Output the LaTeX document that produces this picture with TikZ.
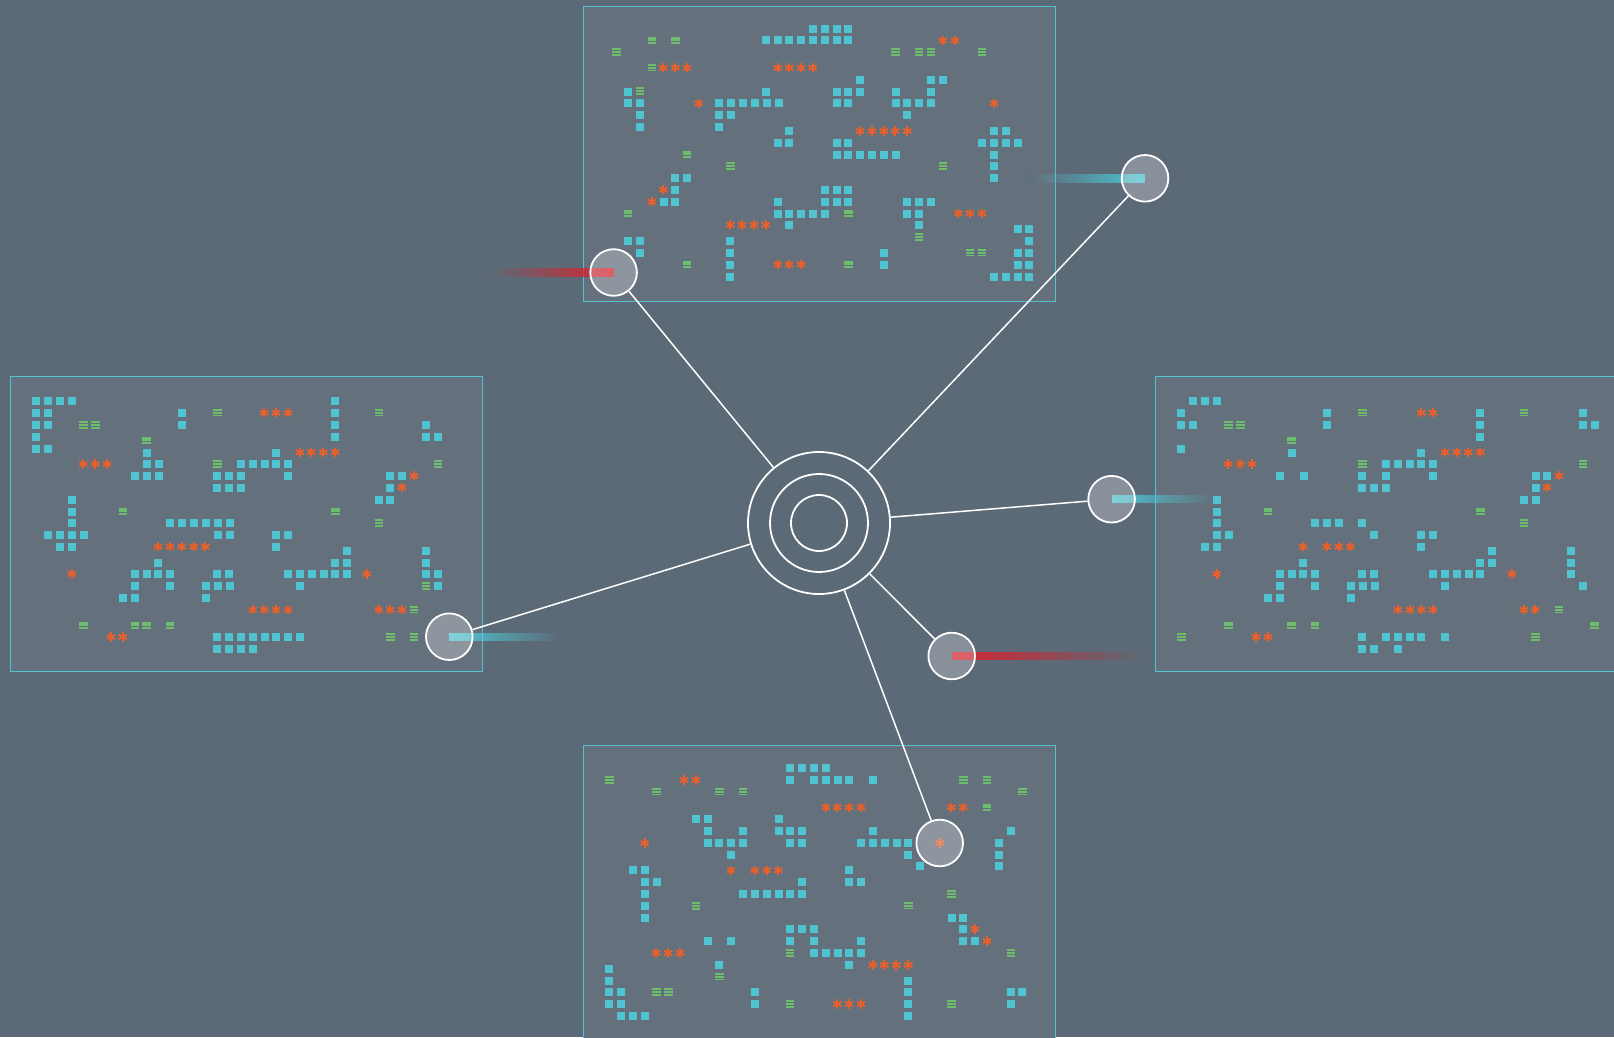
\documentclass[tikz,border=0pt]{standalone}
\usetikzlibrary{fadings}
\definecolor{bgc}{RGB}{92,105,118}
\definecolor{panelc}{RGB}{100,112,124}
\definecolor{cyanc}{RGB}{79,195,208}
\definecolor{greenc}{RGB}{108,190,106}
\definecolor{orangec}{RGB}{232,96,44}
\definecolor{redc}{RGB}{214,36,48}
\tikzfading[name=fadetoleft, left color=transparent!100, right color=transparent!0]
\tikzfading[name=fadetoright, left color=transparent!0, right color=transparent!100]
\newcommand\cyanrow[2]{\foreach \xx in {#2} \fill[cyanc] (\xx-4,#1-4) rectangle ++(8,8);}
\newcommand\greenpts[1]{\foreach \xx/\yy in {#1} \pic at (\xx,\yy) {grnmark};}
\newcommand\astpts[1]{\foreach \xx/\yy in {#1} \pic at (\xx,\yy) {astmark};}
\begin{document}
\begin{tikzpicture}[x=1pt,y=-1pt,
  panelbox/.style={fill=panelc, draw=cyanc, line width=1pt},
  link/.style={draw=white, line width=1.5pt},
  ring/.style={circle, draw=white, line width=1.8pt, inner sep=0pt},
  sat/.style={circle, draw=white, line width=1.8pt, fill=white, fill opacity=0.27, inner sep=0pt, minimum size=46.6pt},
  grnmark/.pic={\foreach \d in {-2.7,0,2.7} \fill[greenc] (-4.2,\d-0.9) rectangle (4.2,\d+0.9);},
  astmark/.pic={\foreach \a in {90,30,150} \draw[orangec, line width=2pt] (\a:4.6) -- (\a+180:4.6);}
]
\useasboundingbox (0,0) rectangle (1614,1037);
\fill[bgc] (0,0) rectangle (1614,1037);
\clip (0,0) rectangle (1614,1037);

% panels
\path[panelbox] (583.3,6.3) rectangle (1055.5,301.3);
\path[panelbox] (10.5,376) rectangle (482.5,671);
\path[panelbox] (1155.3,376) rectangle (1627.3,671);
\path[panelbox] (583.3,745.7) rectangle (1055.5,1045);

% top panel
\cyanrow{29}{813,825,837,848}
\cyanrow{40}{766,778,789,801,813,825,837,848}
\cyanrow{80}{860,931,943}
\cyanrow{92}{628,766,837,848,860,896,931}
\cyanrow{103}{628,640,719,731,743,755,767,779,837,848,896,907,919,931}
\cyanrow{115}{640,719,731,907}
\cyanrow{127}{640,719}
\cyanrow{131}{789,994,1006}
\cyanrow{143}{778,789,837,848,982,994,1006,1018}
\cyanrow{155}{837,848,860,872,884,896,994}
\cyanrow{166}{994}
\cyanrow{178}{675,687,994}
\cyanrow{190}{675,825,837,848}
\cyanrow{202}{664,675,778,825,837,848,907,919,931}
\cyanrow{214}{778,789,801,813,825,907,919}
\cyanrow{225}{789,919}
\cyanrow{229}{1018,1029}
\cyanrow{241}{628,640,730,1029}
\cyanrow{253}{640,730,884,1018,1029}
\cyanrow{265}{730,884,1018,1029}
\cyanrow{277}{730,994,1006,1018,1029}
\greenpts{651.7/40.3,675.3/40.3,616.3/52,651.7/67.7,640/91,687/154.3,730.3/166,628/213.3,687/264.3,895.3/52,919/52,930.7/52,982/52,942.7/166,848.3/213.3,919/237,970/252.7,982/252.7,848.3/264.3}
\astpts{663.3/67.7,675.3/67.7,687/67.7,777.7/67.7,789.3/67.7,801/67.7,812.7/67.7,698.7/103.3,730.3/225,742/225,754/225,765.7/225,663.3/189.7,651.7/201.7,777.7/264.3,789.3/264.3,801/264.3,942.7/40.3,954.7/40.3,994/103.3,860/131,872/131,883.7/131,895.3/131,907.3/131,958.3/213.3,970/213.3,982/213.3}

% left panel
\cyanrow{401}{36,48,60,72,335}
\cyanrow{413}{36,48,182,335}
\cyanrow{425}{36,48,182,335,426}
\cyanrow{437}{36,335,426,438}
\cyanrow{449}{36,48}
\cyanrow{453}{147,276}
\cyanrow{464}{147,159,241,253,265,276,288}
\cyanrow{476}{135,147,159,217,229,241,288,390,402}
\cyanrow{488}{217,229,241,390}
\cyanrow{500}{72,379,390}
\cyanrow{512}{72}
\cyanrow{523}{72,170,182,194,206,218,230}
\cyanrow{535}{48,60,72,84,218,230,276,288}
\cyanrow{547}{60,72,276}
\cyanrow{551}{347,426}
\cyanrow{563}{158,335,347,426}
\cyanrow{574}{135,147,158,170,217,229,288,300,312,324,335,347,426,438}
\cyanrow{586}{135,170,206,218,230,300,438}
\cyanrow{598}{123,135,206}
\cyanrow{637}{217,229,241,253,265,276,288,300}
\cyanrow{649}{217,229,241,253}
\greenpts{217.3/412.7,83.3/425,95.3/425,146.3/440.3,217.3/464,122.7/511.3,83.3/625.3,134.7/625.3,146.3/625.3,170/625.3,378.7/412.7,437.7/464,335.3/511.3,378.7/523,425.7/586,414/609.7,390.3/637,414/637}
\astpts{83.3/464,95.3/464,107/464,158/546.7,170/546.7,181.7/546.7,193.7/546.7,205.3/546.7,71.7/574,111/637,122.7/637,264.3/412.7,276/412.7,288/412.7,299.7/452.3,311.3/452.3,323.3/452.3,335.3/452.3,414/475.7,402/487.3,366.7/574,252.7/609.7,264.3/609.7,276/609.7,288/609.7,378.7/609.7,390.3/609.7,402/609.7}

% right panel
\cyanrow{401}{1193,1205,1217}
\cyanrow{413}{1181,1327,1480,1583}
\cyanrow{425}{1181,1193,1327,1480,1583,1595}
\cyanrow{437}{1480}
\cyanrow{449}{1181}
\cyanrow{453}{1292,1421}
\cyanrow{464}{1386,1398,1410,1421,1433}
\cyanrow{476}{1280,1304,1362,1386,1433,1536,1547}
\cyanrow{488}{1362,1374,1386,1536}
\cyanrow{500}{1217,1524,1536}
\cyanrow{512}{1217}
\cyanrow{523}{1217,1315,1327,1339,1362}
\cyanrow{535}{1217,1229,1374,1421,1433}
\cyanrow{547}{1205,1217,1421}
\cyanrow{551}{1492,1571}
\cyanrow{563}{1303,1480,1492,1571}
\cyanrow{574}{1280,1292,1303,1315,1362,1374,1433,1445,1457,1469,1480,1571}
\cyanrow{586}{1280,1315,1351,1363,1375,1445,1583}
\cyanrow{598}{1268,1280,1351}
\cyanrow{637}{1362,1386,1398,1410,1421,1445}
\cyanrow{649}{1362,1374,1398}
\greenpts{1362.3/412.7,1228.3/425,1240.3/425,1291.3/440.3,1362.3/464,1267.7/511.3,1228.3/625.3,1291.3/625.3,1315/625.3,1181.3/637,1523.7/412.7,1582.7/464,1480.3/511.3,1523.7/523,1559/609.7,1594.3/625.3,1535.3/637}
\astpts{1228.3/464,1240.3/464,1252/464,1303/546.7,1326.7/546.7,1338.7/546.7,1350.3/546.7,1216.7/574,1256/637,1267.7/637,1421.3/412.7,1433/412.7,1445/452.3,1456.7/452.3,1468.3/452.3,1480.3/452.3,1559/475.7,1547/487.3,1511.7/574,1397.7/609.7,1409.7/609.7,1421.3/609.7,1433/609.7,1523.7/609.7,1535.3/609.7}

% bottom panel
\cyanrow{768}{790,802,814,826}
\cyanrow{780}{790,814,826,838,849,873}
\cyanrow{819}{696,708,779}
\cyanrow{831}{708,743,779,790,802,873,1011}
\cyanrow{843}{708,719,731,743,790,802,861,873,885,897,908,999}
\cyanrow{855}{731,908,999}
\cyanrow{866}{920,999}
\cyanrow{870}{633,645,849}
\cyanrow{882}{645,657,802,849,861}
\cyanrow{894}{645,743,755,767,779,790,802}
\cyanrow{906}{645}
\cyanrow{918}{645,952,963}
\cyanrow{929}{790,802,814,963}
\cyanrow{941}{708,731,790,814,861,963,975}
\cyanrow{953}{814,826,838,849,861}
\cyanrow{965}{719,849}
\cyanrow{969}{609}
\cyanrow{981}{609,908}
\cyanrow{992}{609,621,755,908,1011,1022}
\cyanrow{1004}{609,621,755,908,1011}
\cyanrow{1016}{621,633,645,908}
\greenpts{609.3/780,656.3/791.7,719.3/791.7,743/791.7,695.7/906,790/953,719.3/976.7,656.3/992,668.3/992,790/1004,963.3/780,987/780,1022.3/791.7,987/807.3,951.3/894,908.3/905.7,1010.7/953,951.3/1004}
\astpts{684/780,695.7/780,644.7/843,731/870.3,754.7/870.3,766.7/870.3,778.3/870.3,656.3/953,668.3/953,680/953,825.7/807.3,837.3/807.3,849/807.3,861/807.3,951.3/807.3,963.3/807.3,975/929,987/941,872.7/965,884.3/965,896.3/965,908.3/965,837.3/1004,849/1004,861/1004,939.7/843}

% hub
\node[ring, minimum size=142pt] (hub) at (819,523) {};
\node[ring, minimum size=98pt] (hubmid) at (819,523) {};
\node[ring, minimum size=56pt] (hubin) at (819,523) {};

% satellite positions
\coordinate (c1) at (613.6,272.5);
\coordinate (c2) at (1145,178.3);
\coordinate (c3) at (1111.6,499.2);
\coordinate (c4) at (951.7,656);
\coordinate (c5) at (939.7,843);
\coordinate (c6) at (449.3,636.7);

% gradient bars
\fill[redc, path fading=fadetoleft] (493,268.3) rectangle (613.6,276.7);
\fill[cyanc, path fading=fadetoleft] (1030,174.1) rectangle (1145,182.5);
\fill[cyanc, path fading=fadetoright] (1111.6,495) rectangle (1215,503.4);
\fill[redc, path fading=fadetoright] (951.7,651.8) rectangle (1140,660.2);
\fill[cyanc, path fading=fadetoright] (449.3,632.5) rectangle (562,640.9);

% satellites
\node[sat] (s1) at (c1) {};
\node[sat] (s2) at (c2) {};
\node[sat] (s3) at (c3) {};
\node[sat] (s4) at (c4) {};
\node[sat] (s5) at (c5) {};
\node[sat] (s6) at (c6) {};

% connectors
\foreach \s in {s1,s2,s3,s4,s5,s6} \draw[link] (hub) -- (\s);
\end{tikzpicture}
\end{document}
